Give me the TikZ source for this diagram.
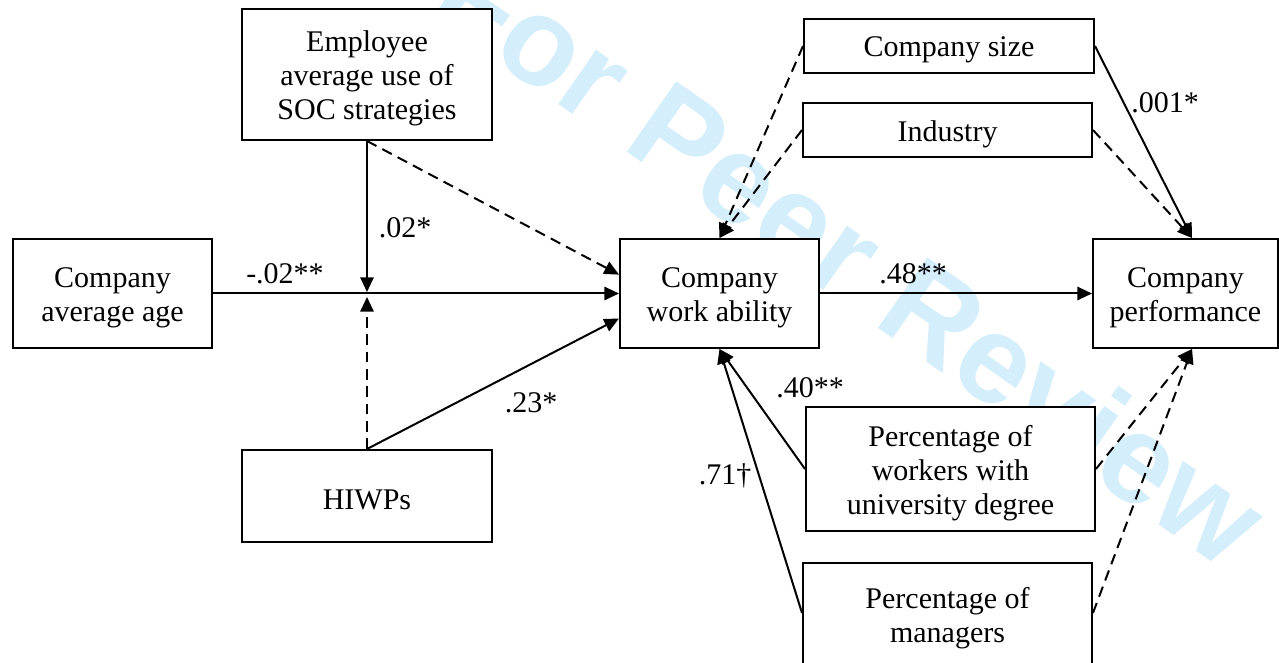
\documentclass[tikz,border=0pt]{standalone}
\usepackage{fontspec}
\setmainfont{Liberation Serif}
\newfontfamily\wmfont{Liberation Sans}
\usetikzlibrary{arrows.meta,calc}
\definecolor{wm}{RGB}{212,238,251}
\begin{document}
\begin{tikzpicture}[x=0.75pt,y=-0.75pt,
  box/.style={draw,line width=1.5pt,fill=white,inner sep=0pt},
  txt/.style={align=center,inner sep=0pt,font=\fontsize{22.5}{25.5}\selectfont},
  lab/.style={anchor=base,inner sep=0pt,font=\fontsize{22.5}{25.5}\selectfont},
  link/.style={line width=1.5pt,-{Triangle[length=11pt,width=10pt]}},
  dlink/.style={link,dash pattern=on 8pt off 5pt}]
\useasboundingbox (0,0) rectangle (1279,663);
\clip (0,0) rectangle (1279,663);
% watermark
\node[rotate=-35,anchor=base west,inner sep=0pt,text=wm,font=\wmfont\bfseries\fontsize{94}{94}\selectfont] (wmk) at (426,12) {For Peer Review};
% boxes
\node[box,minimum width=187.5pt,minimum height=98.25pt] (soc) at (367,74.5) {};
\node[box,minimum width=149.25pt,minimum height=81.75pt] (age) at (112.5,293.5) {};
\node[box,minimum width=187.5pt,minimum height=69pt] (hiwp) at (367,496) {};
\node[box,minimum width=149.25pt,minimum height=81.75pt] (cwa) at (719.5,293.5) {};
\node[box,minimum width=217.5pt,minimum height=40.5pt] (size) at (949,46) {};
\node[box,minimum width=216.75pt,minimum height=40.5pt] (ind) at (947.5,130) {};
\node[box,minimum width=138.75pt,minimum height=81.75pt] (perf) at (1185.5,293.5) {};
\node[box,minimum width=216.75pt,minimum height=93pt] (univ) at (950.5,469) {};
\node[box,minimum width=216.75pt,minimum height=78.75pt] (mgr) at (947.5,615.5) {};
% box texts
\node[txt] (socT) at ([yshift=-3pt]soc.center) {Employee\\average use of\\SOC strategies};
\node[txt] (ageT) at ([yshift=-3pt]age.center) {Company\\average age};
\node[txt] (hiwpT) at ([yshift=-3pt]hiwp.center) {HIWPs};
\node[txt] (cwaT) at ([yshift=-3pt]cwa.center) {Company\\work ability};
\node[txt] (sizeT) at ([yshift=-3pt]size.center) {Company size};
\node[txt] (indT) at ([yshift=-3pt]ind.center) {Industry};
\node[txt] (perfT) at ([yshift=-3pt]perf.center) {Company\\performance};
\node[txt] (univT) at ([yshift=-3pt]univ.center) {Percentage of\\workers with\\university degree};
\node[txt] (mgrT) at ([yshift=-2pt]mgr.center) {Percentage of\\managers};
% connection points
\coordinate (j) at (367,293);
\coordinate (cwaA) at ($(cwa.north west)!0.33!(cwa.south west)$);
\coordinate (cwaB) at ($(cwa.north west)!0.725!(cwa.south west)$);
\coordinate (pt) at ($(perf.north west)!0.535!(perf.north east)$);
\coordinate (pb) at ($(perf.south west)!0.535!(perf.south east)$);
\coordinate (mgrW) at ($(mgr.north west)!0.476!(mgr.south west)$);
\coordinate (mgrE) at ($(mgr.north east)!0.476!(mgr.south east)$);
% connectors
\draw[link] (age.east) -- (cwa.west);
\draw[link,shorten >=0.75pt] (soc.south) -- (j);
\draw[dlink,shorten >=3pt] (hiwp.north) -- (j);
\draw[dlink] (soc.south) -- (cwaA);
\draw[link] (hiwp.north) -- (cwaB);
\draw[link] (cwa.east) -- (perf.west);
\draw[dlink] (size.west) -- (cwa.north);
\draw[dlink] (ind.west) -- (cwa.north);
\draw[link] (size.east) -- (pt);
\draw[dlink] (ind.east) -- (pt);
\draw[link] (univ.west) -- (cwa.south);
\draw[link] (mgrW) -- (cwa.south);
\draw[dlink] (univ.east) -- (pb);
\draw[dlink] (mgrE) -- (pb);
% labels
\node[lab] (l1) at (285,283) {-.02**};
\node[lab] (l2) at (405,238) {.02*};
\node[lab] (l3) at (531,412) {.23*};
\node[lab] (l4) at (913,283) {.48**};
\node[lab] (l5) at (1165,113) {.001*};
\node[lab] (l6) at (810,397) {.40**};
\node[lab] (l7) at (725,484) {.71†};
\end{tikzpicture}
\end{document}
